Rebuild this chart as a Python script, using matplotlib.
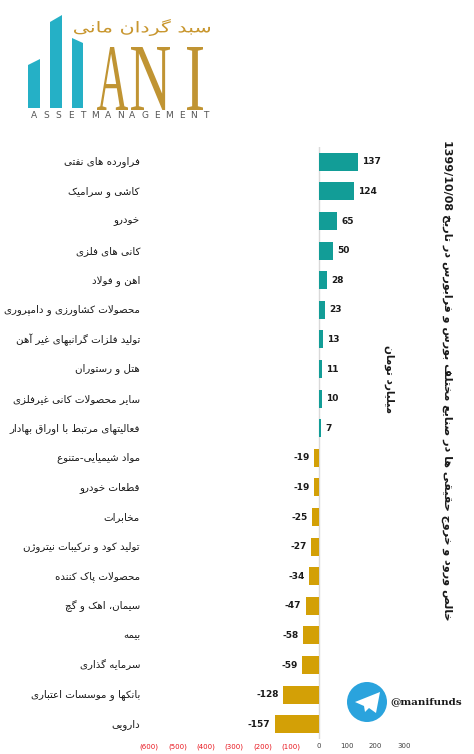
import matplotlib
matplotlib.use("Agg")
import matplotlib.pyplot as plt
import numpy as np
from matplotlib.textpath import TextPath
from matplotlib.patches import PathPatch, Polygon, Circle
from matplotlib.font_manager import FontProperties
from matplotlib.transforms import Affine2D, blended_transform_factory

# ---- data ----
industries = [
    "فراورده های نفتی", "کاشی و سرامیک", "خودرو", "کانی های فلزی", "اهن و فولاد",
    "محصولات کشاورزی و دامپروری", "تولید فلزات گرانبهای غیر آهن", "هتل و رستوران",
    "سایر محصولات کانی غیرفلزی", "فعالیتهای مرتبط با اوراق بهادار",
    "مواد شیمیایی-متنوع", "قطعات خودرو", "مخابرات", "تولید کود و ترکیبات نیتروژن",
    "محصولات پاک کننده", "سیمان، اهک و گچ", "بیمه", "سرمایه گذاری",
    "بانکها و موسسات اعتباری", "دارویی",
]
net_flow = [137, 124, 65, 50, 28, 23, 13, 11, 10, 7,
            -19, -19, -25, -27, -34, -47, -58, -59, -128, -157]
xticks = [-600, -500, -400, -300, -200, -100, 0, 100, 200, 300]
title_fa = "خالص ورود و خروج حقیقی ها در صنایع مختلف بورس و فرابورس در تاریخ"
title_date = "1399/10/08"
unit_fa = "میلیارد تومان"
logo_fa = "سبد گردان مانی"
channel = "@manifunds"

# ---- tiny arabic/persian shaper (isolated, final, initial, medial) ----
FORMS = {
    'ء': (0xFE80,), 'آ': (0xFE81, 0xFE82), 'أ': (0xFE83, 0xFE84), 'ا': (0xFE8D, 0xFE8E),
    'ب': (0xFE8F, 0xFE90, 0xFE91, 0xFE92), 'ة': (0xFE93, 0xFE94),
    'ت': (0xFE95, 0xFE96, 0xFE97, 0xFE98), 'ث': (0xFE99, 0xFE9A, 0xFE9B, 0xFE9C),
    'ج': (0xFE9D, 0xFE9E, 0xFE9F, 0xFEA0), 'ح': (0xFEA1, 0xFEA2, 0xFEA3, 0xFEA4),
    'خ': (0xFEA5, 0xFEA6, 0xFEA7, 0xFEA8), 'د': (0xFEA9, 0xFEAA), 'ذ': (0xFEAB, 0xFEAC),
    'ر': (0xFEAD, 0xFEAE), 'ز': (0xFEAF, 0xFEB0),
    'س': (0xFEB1, 0xFEB2, 0xFEB3, 0xFEB4), 'ش': (0xFEB5, 0xFEB6, 0xFEB7, 0xFEB8),
    'ص': (0xFEB9, 0xFEBA, 0xFEBB, 0xFEBC), 'ض': (0xFEBD, 0xFEBE, 0xFEBF, 0xFEC0),
    'ط': (0xFEC1, 0xFEC2, 0xFEC3, 0xFEC4), 'ظ': (0xFEC5, 0xFEC6, 0xFEC7, 0xFEC8),
    'ع': (0xFEC9, 0xFECA, 0xFECB, 0xFECC), 'غ': (0xFECD, 0xFECE, 0xFECF, 0xFED0),
    'ف': (0xFED1, 0xFED2, 0xFED3, 0xFED4), 'ق': (0xFED5, 0xFED6, 0xFED7, 0xFED8),
    'ك': (0xFED9, 0xFEDA, 0xFEDB, 0xFEDC), 'ل': (0xFEDD, 0xFEDE, 0xFEDF, 0xFEE0),
    'م': (0xFEE1, 0xFEE2, 0xFEE3, 0xFEE4), 'ن': (0xFEE5, 0xFEE6, 0xFEE7, 0xFEE8),
    'ه': (0xFEE9, 0xFEEA, 0xFEEB, 0xFEEC), 'و': (0xFEED, 0xFEEE),
    'ى': (0xFEEF, 0xFEF0), 'ي': (0xFEF1, 0xFEF2, 0xFEF3, 0xFEF4),
    'پ': (0xFB56, 0xFB57, 0xFB58, 0xFB59), 'چ': (0xFB7A, 0xFB7B, 0xFB7C, 0xFB7D),
    'ژ': (0xFB8A, 0xFB8B), 'ک': (0xFB8E, 0xFB8F, 0xFB90, 0xFB91),
    'گ': (0xFB92, 0xFB93, 0xFB94, 0xFB95), 'ی': (0xFBFC, 0xFBFD, 0xFBFE, 0xFBFF),
}
LAM_ALEF = {'ا': (0xFEFB, 0xFEFC), 'آ': (0xFEF5, 0xFEF6), 'أ': (0xFEF7, 0xFEF8)}


def dual(c):
    return c in FORMS and len(FORMS[c]) == 4


def fa(text):
    out = []
    i = 0
    n = len(text)
    while i < n:
        c = text[i]
        prev = text[i - 1] if i > 0 else ''
        nxt = text[i + 1] if i + 1 < n else ''
        if c not in FORMS:
            out.append(c)
            i += 1
            continue
        jp = dual(prev)
        if c == 'ل' and nxt in LAM_ALEF:
            out.append(chr(LAM_ALEF[nxt][1 if jp else 0]))
            i += 2
            continue
        f = FORMS[c]
        jn = dual(c) and nxt in FORMS
        if len(f) == 1:
            k = 0
        elif jp and jn:
            k = 3
        elif jp:
            k = 1
        elif jn:
            k = 2
        else:
            k = 0
        out.append(chr(f[k]))
        i += 1
    return ''.join(out)[::-1]


W, H = 474, 754
fig = plt.figure(figsize=(W / 100, H / 100), dpi=100)
fig.patch.set_facecolor('white')

# ---- bar chart ----
ax = fig.add_axes([130 / W, 1 - 739 / H, 280 / W, (739 - 147) / H])
y = np.arange(len(industries))
colors = ['#129d97' if v > 0 else '#d3a006' for v in net_flow]
ax.barh(y, net_flow, height=0.61, color=colors, zorder=2)
ax.axvline(0, color='#d9d9d9', lw=1, zorder=1)
ax.set_xlim(-668, 322)
ax.set_ylim(len(industries) - 0.5, -0.5)
for s in ax.spines.values():
    s.set_visible(False)
ax.set_yticks([])
ax.set_xticks(xticks)
ax.set_xticklabels(['(%d)' % -t if t < 0 else str(t) for t in xticks])
ax.tick_params(axis='x', length=0, pad=3, labelsize=5)
for lab, t in zip(ax.get_xticklabels(), xticks):
    lab.set_color('#e8141c' if t < 0 else '#404040')

for yi, v in zip(y, net_flow):
    ax.annotate(str(v), (v, yi), xytext=(3 if v > 0 else -3, 0), textcoords='offset points',
                ha='left' if v > 0 else 'right', va='center',
                fontsize=6.5, fontweight='bold', color='#1a1a1a')

trans = blended_transform_factory(fig.transFigure, ax.transData)
for yi, name in zip(y, industries):
    ax.text(140 / W, yi, fa(name), transform=trans, ha='right', va='center',
            fontsize=7.4, color='#1a1a1a', family='DejaVu Sans')

# ---- overlay in pixel coordinates for title, unit, logo ----
ov = fig.add_axes([0, 0, 1, 1], zorder=5)
ov.set_xlim(0, W)
ov.set_ylim(H, 0)
ov.axis('off')

ov.text(447, 140, title_date + ' ' + fa(title_fa), rotation=270, ha='center', va='top',
        fontsize=8, fontweight='bold', color='#1a1a1a')
ov.text(389, 379, fa(unit_fa), rotation=270, ha='center', va='center',
        fontsize=7.6, fontweight='bold', color='#1a1a1a')


def path_in_box(s, family, x0, x1, y0, y1, color):
    tp = TextPath((0, 0), s, size=100, prop=FontProperties(family=family))
    ext = tp.get_extents()
    sx = (x1 - x0) / ext.width
    sy = (y1 - y0) / ext.height
    tr = Affine2D().translate(-ext.x0, -ext.y0).scale(sx, -sy).translate(x0, y1)
    ov.add_patch(PathPatch(tr.transform_path(tp), color=color, lw=0))


# logo bars
logo_teal = '#25b0c6'
for pts in [[(28, 108), (40, 108), (40, 59), (28, 65)],
            [(50, 108), (62, 108), (62, 15), (50, 22)],
            [(72, 108), (83, 108), (83, 43), (72, 38)]]:
    ov.add_patch(Polygon(pts, closed=True, color=logo_teal, lw=0))

gold = '#c09433'
path_in_box('A', 'Liberation Serif', 97, 128, 47, 110, gold)
path_in_box('N', 'Liberation Serif', 131, 170, 47, 110, gold)
path_in_box('I', 'Liberation Serif', 187, 203, 47, 110, gold)
path_in_box(fa(logo_fa), 'DejaVu Sans', 74, 210, 19, 36, '#c8962e')

word = 'ASSETMANAGEMENT'
for k, ch in enumerate(word):
    ov.text(34 + k * 12.3, 116, ch, ha='center', va='center', fontsize=6.5, color='#555555')

# telegram badge
ov.add_patch(Circle((367, 702), 20, color='#2aa3dd', lw=0))
ov.add_patch(Polygon([(355, 702), (380, 692), (376, 713), (369, 708), (365, 712), (364, 706)],
                     closed=True, color='white', lw=0))
ov.text(390, 702, channel, ha='left', va='center', fontsize=7.5, fontweight='bold',
        family='DejaVu Serif', color='#1a1a1a')

fig.savefig('out.png', dpi=100, facecolor='white')
